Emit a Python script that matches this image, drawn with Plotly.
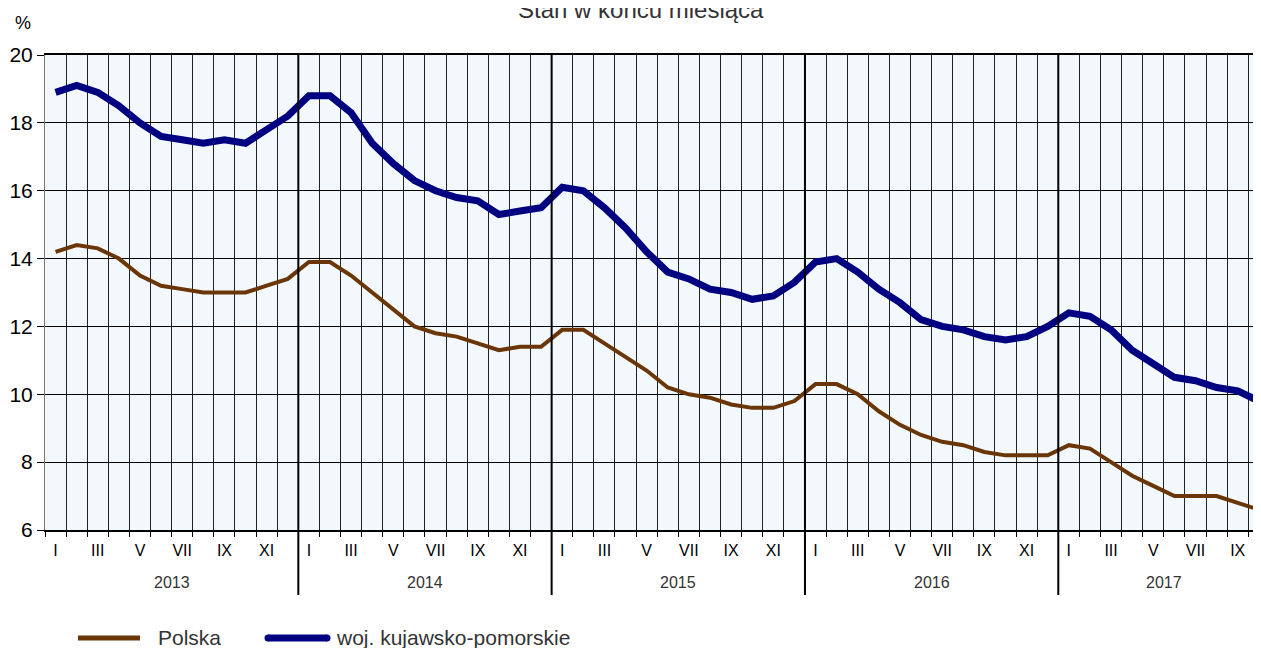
import plotly.graph_objects as go

# ---------------- data ----------------
years = ["2013", "2014", "2015", "2016", "2017"]
months_per_year = [12, 12, 12, 12, 10]
month_roman = ["I", "II", "III", "IV", "V", "VI", "VII", "VIII", "IX", "X", "XI", "XII"]
shown_months = ["I", "III", "V", "VII", "IX", "XI"]

polska = [
    14.2, 14.4, 14.3, 14.0, 13.5, 13.2, 13.1, 13.0, 13.0, 13.0, 13.2, 13.4,   # 2013
    13.9, 13.9, 13.5, 13.0, 12.5, 12.0, 11.8, 11.7, 11.5, 11.3, 11.4, 11.4,   # 2014
    11.9, 11.9, 11.5, 11.1, 10.7, 10.2, 10.0, 9.9, 9.7, 9.6, 9.6, 9.8,        # 2015
    10.3, 10.3, 10.0, 9.5, 9.1, 8.8, 8.6, 8.5, 8.3, 8.2, 8.2, 8.2,            # 2016
    8.5, 8.4, 8.0, 7.6, 7.3, 7.0, 7.0, 7.0, 6.8, 6.6,                        # 2017
]
kujawsko = [
    18.9, 19.1, 18.9, 18.5, 18.0, 17.6, 17.5, 17.4, 17.5, 17.4, 17.8, 18.2,   # 2013
    18.8, 18.8, 18.3, 17.4, 16.8, 16.3, 16.0, 15.8, 15.7, 15.3, 15.4, 15.5,   # 2014
    16.1, 16.0, 15.5, 14.9, 14.2, 13.6, 13.4, 13.1, 13.0, 12.8, 12.9, 13.3,   # 2015
    13.9, 14.0, 13.6, 13.1, 12.7, 12.2, 12.0, 11.9, 11.7, 11.6, 11.7, 12.0,   # 2016
    12.4, 12.3, 11.9, 11.3, 10.9, 10.5, 10.4, 10.2, 10.1, 9.8,               # 2017
]
y_ticks = [6, 8, 10, 12, 14, 16, 18, 20]

series_names = ["Polska", "woj. kujawsko-pomorskie"]
title_text = "Stan w końcu miesiąca"
unit_text = "%"

# ---------------- derived positions ----------------
n_months = sum(months_per_year)
x_vals = [i + 0.5 for i in range(n_months)]
year_starts = []
s = 0
for n in months_per_year:
    year_starts.append(s)
    s += n

label_vals, label_text = [], []
for ys, n in zip(year_starts, months_per_year):
    for m in range(n):
        if month_roman[m] in shown_months:
            label_vals.append(ys + m + 0.5)
            label_text.append(month_roman[m])

# ---------------- layout constants ----------------
# page is 1261x648; the figure div sits at the body's 8px margin
OFF = 8
W, H = 1261 - OFF, 648 - OFF
PL, PR, PT, PB = 45, 1261, 55, 530          # plot area in page pixels
ML = PL - OFF
MT = PT - OFF
MB = H - (PB - OFF)
MR = 0
PW = W - ML - MR
PH = H - MT - MB
x_max = PW / 21.11  # month width ~21.1 px, chart cropped on the right


def px_x(px):
    return (px - OFF - ML) / PW


def px_y(py):
    return (PB - py) / PH


BROWN = "#6B3607"
NAVY = "#000080"
FONT = "Arial, Liberation Sans, sans-serif"

fig = go.Figure()
fig.add_trace(go.Scatter(x=x_vals, y=polska, mode="lines", name=series_names[0],
                         line=dict(color=BROWN, width=4), showlegend=False))
fig.add_trace(go.Scatter(x=x_vals, y=kujawsko, mode="lines", name=series_names[1],
                         line=dict(color=NAVY, width=7), showlegend=False))

shapes = []
# year separators
for ys in year_starts[1:]:
    shapes.append(dict(type="line", xref="x", yref="paper", x0=ys, x1=ys,
                       y0=px_y(595), y1=1, line=dict(color="#000", width=2), layer="above"))

# manual legend
shapes.append(dict(type="line", xref="paper", yref="paper", x0=px_x(78), x1=px_x(140),
                   y0=px_y(638), y1=px_y(638), line=dict(color=BROWN, width=5)))
shapes.append(dict(type="line", xref="paper", yref="paper", x0=px_x(268), x1=px_x(327),
                   y0=px_y(638), y1=px_y(638), line=dict(color=NAVY, width=7)))
for cx in (268, 327):
    shapes.append(dict(type="circle", xref="paper", yref="paper",
                       x0=px_x(cx - 3.5), x1=px_x(cx + 3.5),
                       y0=px_y(638 + 3.5), y1=px_y(638 - 3.5),
                       fillcolor=NAVY, line=dict(width=0)))

annotations = []
for ys, n, yr in zip(year_starts, months_per_year, years):
    annotations.append(dict(x=ys + n / 2, y=px_y(582), xref="x", yref="paper", text=yr,
                            showarrow=False, xanchor="center", yanchor="middle",
                            font=dict(family=FONT, size=16, color="#333")))
annotations.append(dict(x=px_x(156), y=px_y(637), xref="paper", yref="paper", text=series_names[0],
                        showarrow=False, xanchor="left", yanchor="middle",
                        font=dict(family=FONT, size=21, color="#333")))
annotations.append(dict(x=px_x(334), y=px_y(637), xref="paper", yref="paper", text=series_names[1],
                        showarrow=False, xanchor="left", yanchor="middle",
                        font=dict(family=FONT, size=21, color="#333")))
annotations.append(dict(x=px_x(23), y=px_y(23), xref="paper", yref="paper", text=unit_text,
                        showarrow=False, xanchor="center", yanchor="middle",
                        font=dict(family=FONT, size=18, color="#000")))
annotations.append(dict(x=px_x(641), y=px_y(9), xref="paper", yref="paper", text=title_text,
                        showarrow=False, xanchor="center", yanchor="middle",
                        font=dict(family=FONT, size=24, color="#333")))

fig.update_layout(
    width=W, height=H,
    margin=dict(l=ML, r=MR, t=MT, b=MB, pad=0),
    paper_bgcolor="white",
    plot_bgcolor="#F2F8FB",
    shapes=shapes,
    annotations=annotations,
    xaxis=dict(range=[0, x_max], tickmode="array", tickvals=list(range(n_months + 1)),
               showticklabels=False, ticks="outside", ticklen=5, tickcolor="#000", tickwidth=1,
               showgrid=True, gridcolor="#222", gridwidth=1, zeroline=False,
               showline=True, linecolor="#000", linewidth=1.5, mirror=True),
    xaxis2=dict(range=[0, x_max], overlaying="x", anchor="y", side="bottom",
                tickmode="array", tickvals=label_vals, ticktext=label_text,
                ticks="outside", ticklen=6, tickcolor="rgba(0,0,0,0)",
                showgrid=False, zeroline=False, showline=False,
                tickfont=dict(family=FONT, size=16, color="#000")),
    yaxis=dict(range=[6, 20], tickmode="array", tickvals=y_ticks,
               ticks="outside", ticklen=7, tickcolor="#000",
               showgrid=True, gridcolor="#000", gridwidth=1, zeroline=False,
               showline=True, linecolor="#777", linewidth=1,
               tickfont=dict(family=FONT, size=21, color="#000")),
    showlegend=False,
)
# invisible trace to activate xaxis2
fig.add_trace(go.Scatter(x=[0], y=[6], xaxis="x2", mode="markers",
                         marker=dict(opacity=0), hoverinfo="skip", showlegend=False))

fig.write_html("out.html")
